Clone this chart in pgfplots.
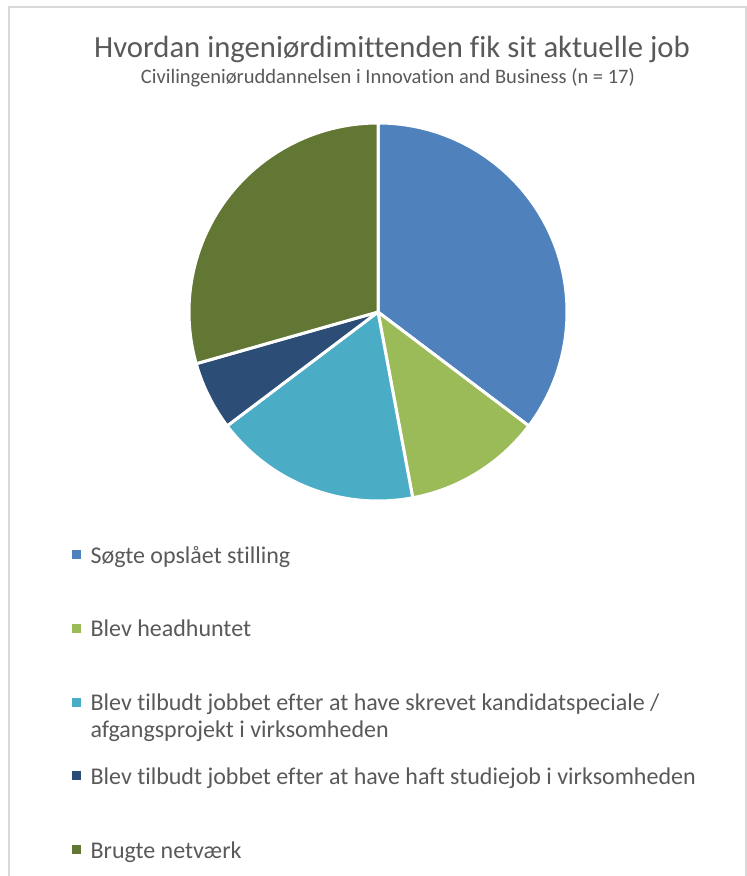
\documentclass[border=0pt]{standalone}
\usepackage{fontspec}
\setmainfont[Ligatures=NoCommon]{Carlito}
\usepackage{pgfplots}
\usepackage{pgfplotstable}
\pgfplotsset{compat=1.18}

\definecolor{txt}{HTML}{595959}
\definecolor{frame}{HTML}{D9D9D9}
\definecolor{s0}{HTML}{4F81BD}
\definecolor{s1}{HTML}{9BBB59}
\definecolor{s2}{HTML}{4BACC6}
\definecolor{s3}{HTML}{2C4D75}
\definecolor{s4}{HTML}{627733}

% number of respondents per answer (n = 17)
\pgfplotstableread[col sep=comma]{
idx,count
0,6
1,2
2,3
3,1
4,5
}\jobdata

% slice angles, clockwise from the top
\def\total{0}
\pgfplotsforeachungrouped \i in {0,...,4}{%
  \pgfplotstablegetelem{\i}{count}\of\jobdata
  \pgfmathsetmacro\total{\total+\pgfplotsretval}%
}
\def\cumsum{0}
\pgfplotsforeachungrouped \i in {0,...,4}{%
  \pgfplotstablegetelem{\i}{count}\of\jobdata
  \pgfmathsetmacro\sa{90-360*\cumsum/\total}%
  \pgfmathsetmacro\cumsum{\cumsum+\pgfplotsretval}%
  \pgfmathsetmacro\ea{90-360*\cumsum/\total}%
  \expandafter\xdef\csname sa\i\endcsname{\sa}%
  \expandafter\xdef\csname ea\i\endcsname{\ea}%
}

\begin{document}
\begin{tikzpicture}[x=1pt,y=1pt]
\path[use as bounding box] (0,0) rectangle (747,876);
\draw[frame, line width=1.5pt] (9,-2) -- (9,869) -- (746,869) -- (746,-2);

\node[txt, anchor=base, font=\fontsize{30.7}{34}\selectfont] at (392,818)
  {Hvordan ingeniørdimittenden fik sit aktuelle job};
\node[txt, anchor=base, font=\fontsize{20.5}{24}\selectfont] at (388,792)
  {Civilingeniøruddannelsen i Innovation and Business (n = 17)};

\begin{axis}[
    at={(378pt,564pt)}, anchor=center,
    width=378pt, height=378pt, scale only axis,
    xmin=-1, xmax=1, ymin=-1, ymax=1,
    hide axis,
    legend cell align=left,
    legend image code/.code={\path (0pt,-3pt); \fill[#1] (0pt,0pt) rectangle (8pt,8pt);},
    legend style={
        at={(axis description cs:-0.3095,-0.127)}, anchor=north west,
        draw=none, fill=none, inner sep=0pt,
        row sep=55.75pt, column sep=10pt,
        font=\fontsize{24}{27}\selectfont, text=txt,
        nodes={inner sep=0pt, text height=14pt, text depth=4pt},
    },
]
\pgfplotsinvokeforeach{0,...,4}{
  \path[fill=s#1, draw=white, line width=3pt, line join=round]
    (axis cs:0,0) -- (axis cs:{cos(\csname sa#1\endcsname)},{sin(\csname sa#1\endcsname)})
    arc[start angle=\csname sa#1\endcsname, end angle=\csname ea#1\endcsname, radius=189pt]
    -- cycle;
}
\addlegendimage{s0}
\addlegendentry{Søgte opslået stilling}
\addlegendimage{s1}
\addlegendentry{Blev headhuntet}
\addlegendimage{s2}
\addlegendentry{\parbox[t]{640pt}{Blev tilbudt jobbet efter at have skrevet kandidatspeciale /\\afgangsprojekt i virksomheden}}
\addlegendimage{s3}
\addlegendentry{Blev tilbudt jobbet efter at have haft studiejob i virksomheden}
\addlegendimage{s4}
\addlegendentry{Brugte netværk}
\end{axis}
\end{tikzpicture}
\end{document}
